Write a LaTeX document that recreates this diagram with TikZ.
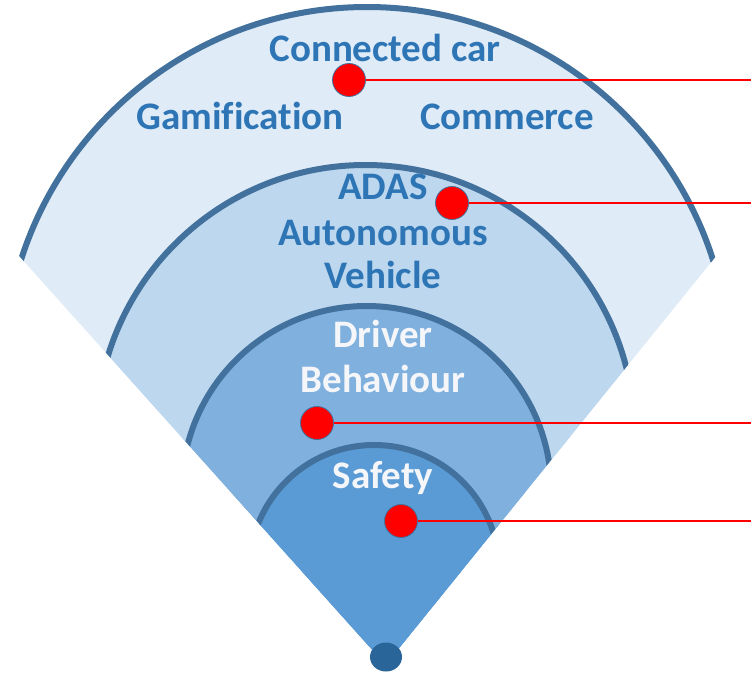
\documentclass[tikz,border=0pt]{standalone}
\usepackage{fontspec}
\setmainfont{Carlito}[Ligatures=NoCommon]
\usetikzlibrary{shapes.geometric}
\definecolor{ringA}{HTML}{DFEBF7}
\definecolor{ringB}{HTML}{BDD7EE}
\definecolor{ringC}{HTML}{7FB0DE}
\definecolor{ringD}{HTML}{5B9BD5}
\definecolor{arcblue}{HTML}{41719C}
\definecolor{txtblue}{HTML}{2E75B6}
\definecolor{apexblue}{HTML}{2A6599}
\definecolor{txtwhite}{HTML}{F4F6FA}
\tikzset{
  ringline/.style={draw=arcblue, line width=6pt},
  reddot/.style={circle, fill=red, draw=arcblue, line width=0.8pt, minimum size=33pt, inner sep=0pt},
  redline/.style={draw=red, line width=2.2pt},
  lbl/.style={font=\bfseries\fontsize{39}{45}\selectfont, anchor=base, inner sep=0pt},
  bluetext/.style={lbl, text=txtblue},
  whitetext/.style={lbl, text=txtwhite}
}
\begin{document}
\begin{tikzpicture}[x=1pt,y=-1pt]
\useasboundingbox (0,0) rectangle (751,677);
\coordinate (apex) at (385.6,664.6);
\coordinate (wl) at (-228.4,-20);
\coordinate (wr) at (939.5,-20);
% ring 1
\begin{scope}
  \clip (apex) -- (wl) -- (wr) -- cycle;
  \fill[ringA] (367,370) circle[radius=363pt];
  \fill[ringA] (-300,370) rectangle (1000,700);
  \clip (-300,-20) rectangle (1000,370);
  \draw[ringline] (367,370) circle[radius=363pt];
\end{scope}
% ring 2
\begin{scope}
  \clip (apex) -- (wl) -- (wr) -- cycle;
  \fill[ringB] (365.5,434.1) circle[radius=269.1pt];
  \fill[ringB] (-300,434.1) rectangle (1000,700);
  \clip (-300,-20) rectangle (1000,434.1);
  \draw[ringline] (365.5,434.1) circle[radius=269.1pt];
\end{scope}
% ring 3
\begin{scope}
  \clip (apex) -- (wl) -- (wr) -- cycle;
  \fill[ringC] (366.5,490.7) circle[radius=184.7pt];
  \fill[ringC] (-300,490.7) rectangle (1000,700);
  \clip (-300,-20) rectangle (1000,490.7);
  \draw[ringline] (366.5,490.7) circle[radius=184.7pt];
\end{scope}
% ring 4
\begin{scope}
  \clip (apex) -- (wl) -- (wr) -- cycle;
  \fill[ringD] (374.2,569.8) circle[radius=124.8pt];
  \fill[ringD] (-300,569.8) rectangle (1000,700);
  \clip (-300,-20) rectangle (1000,569.8);
  \draw[ringline] (374.2,569.8) circle[radius=124.8pt];
\end{scope}
% apex dot
\node[ellipse, fill=apexblue, minimum width=32pt, minimum height=29pt, inner sep=0pt] (apexdot) at (386,657) {};
% labels
\node[bluetext] (tcar) at (385,61) {Connected car};
\node[bluetext] (tgam) at (240,129) {Gamification};
\node[bluetext] (tcom) at (507,129) {Commerce};
\node[bluetext] (tadas) at (383,199) {ADAS};
\node[bluetext] (tauto) at (383,245) {Autonomous};
\node[bluetext] (tveh) at (383,288) {Vehicle};
\node[whitetext] (tdrv) at (383,347) {Driver};
\node[whitetext] (tbeh) at (383,392) {Behaviour};
\node[whitetext] (tsaf) at (383,488) {Safety};
% red markers
\node[reddot] (d1) at (349,80) {};
\node[reddot] (d2) at (452,203) {};
\node[reddot] (d3) at (317,423) {};
\node[reddot] (d4) at (401,521) {};
\coordinate (e1) at (751,80);
\coordinate (e2) at (751,203);
\coordinate (e3) at (751,423);
\coordinate (e4) at (751,521);
\draw[redline] (d1) -- (e1);
\draw[redline] (d2) -- (e2);
\draw[redline] (d3) -- (e3);
\draw[redline] (d4) -- (e4);
\end{tikzpicture}
\end{document}
